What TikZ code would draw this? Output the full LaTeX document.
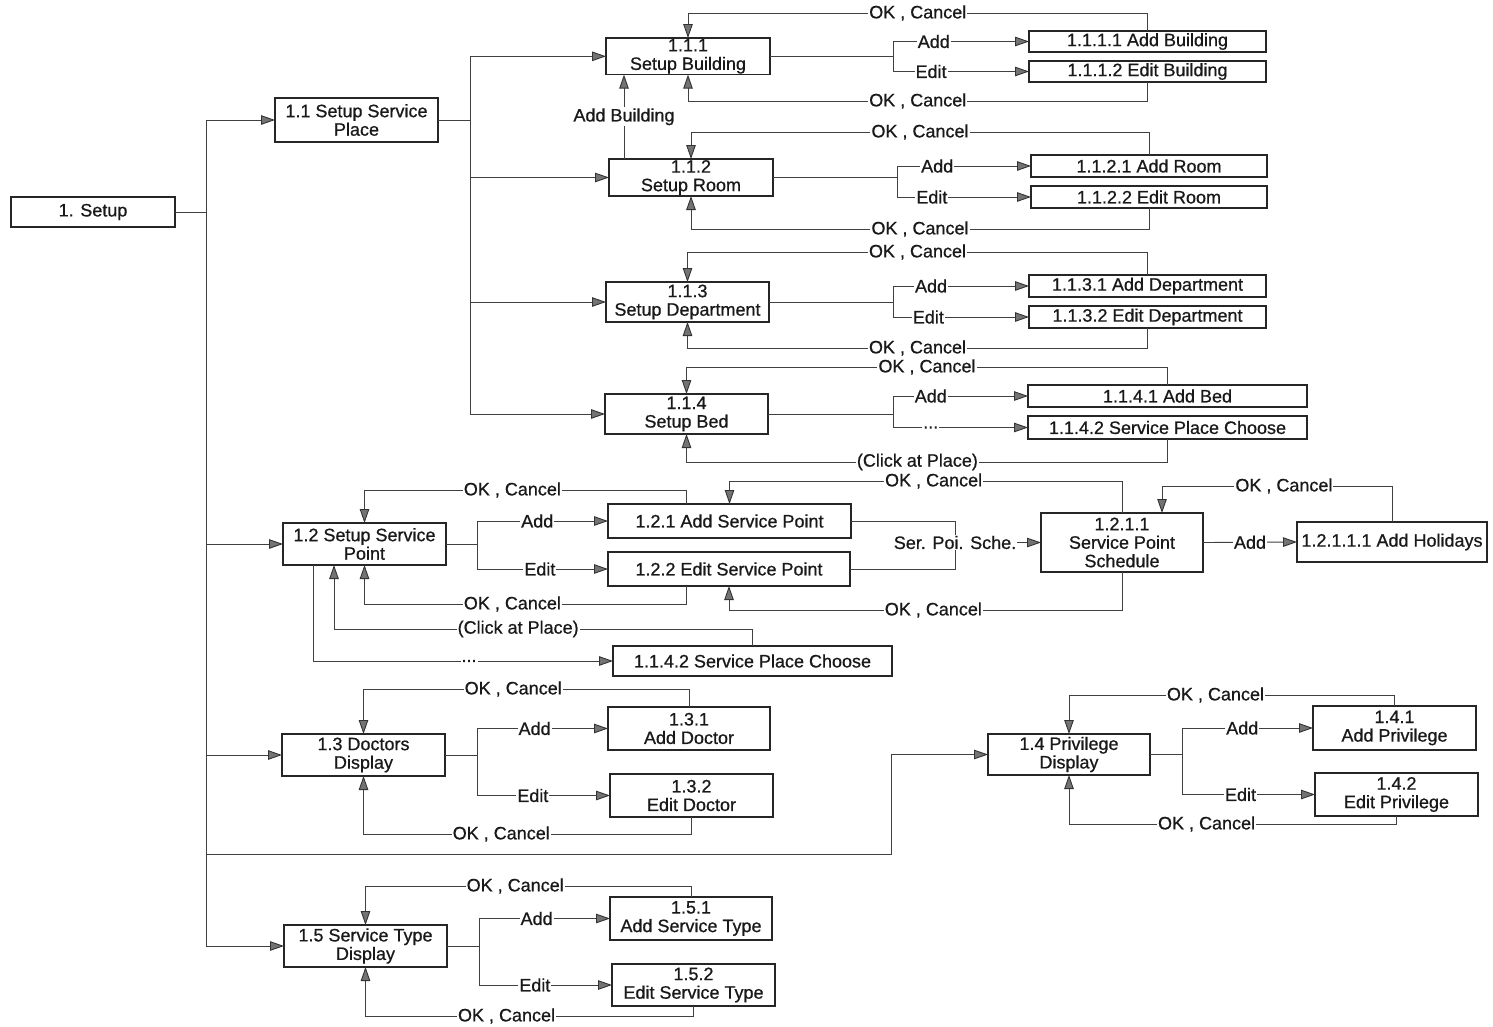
\documentclass[tikz,border=0pt]{standalone}
\usepackage{fontspec}
\setmainfont{Liberation Sans}
\newfontfamily\diagfont{Liberation Sans}[FakeBold=0.7]
\usetikzlibrary{arrows.meta}
\begin{document}
\begin{tikzpicture}[x=1pt,y=-1pt,
  txt/.style={font=\diagfont\fontsize{18}{18.5}\selectfont,text=black!90},
  box/.style={txt,draw=black!85,line width=1.2pt,fill=white,align=center,
              inner sep=1pt,outer sep=0pt,anchor=north west},
  conn/.style={draw=black!75,line width=0.9pt},
  arr/.style={conn,-{Triangle[length=14pt,width=9.5pt,color=black!80,fill=black!55]}},
  lab/.style={txt,fill=white,inner sep=1pt}]

\fill[white] (0,0) rectangle (1493,1026);
\useasboundingbox (0,0) rectangle (1493,1026);

% ---------- boxes ----------
\node[box,minimum width=164pt,minimum height=30pt] (n1)    at (11,197)  {1. Setup};
\node[box,minimum width=163pt,minimum height=44pt] (n11)   at (275,98)  {1.1 Setup Service\\Place};
\node[box,minimum width=164pt,minimum height=36pt] (n111)  at (606,38)  {1.1.1\\Setup Building};
\node[box,minimum width=237pt,minimum height=21pt] (n1111) at (1029,31) {1.1.1.1 Add Building};
\node[box,minimum width=237pt,minimum height=21pt] (n1112) at (1029,61) {1.1.1.2 Edit Building};
\node[box,minimum width=164pt,minimum height=37pt] (n112)  at (609,159) {1.1.2\\Setup Room};
\node[box,minimum width=236pt,minimum height=22pt] (n1121) at (1031,155) {1.1.2.1 Add Room};
\node[box,minimum width=236pt,minimum height=22pt] (n1122) at (1031,186) {1.1.2.2 Edit Room};
\node[box,minimum width=163pt,minimum height=40pt] (n113)  at (606,282) {1.1.3\\Setup Department};
\node[box,minimum width=237pt,minimum height=22pt] (n1131) at (1029,275) {1.1.3.1 Add Department};
\node[box,minimum width=237pt,minimum height=22pt] (n1132) at (1029,306) {1.1.3.2 Edit Department};
\node[box,minimum width=163pt,minimum height=40pt] (n114)  at (605,394) {1.1.4\\Setup Bed};
\node[box,minimum width=279pt,minimum height=22pt] (n1141) at (1028,385) {1.1.4.1 Add Bed};
\node[box,minimum width=279pt,minimum height=23pt] (n1142) at (1028,416) {1.1.4.2 Service Place Choose};

\node[box,minimum width=163pt,minimum height=42pt] (n12)   at (283,523) {1.2 Setup Service\\Point};
\node[box,minimum width=243pt,minimum height=34pt] (n121)  at (608,504) {1.2.1 Add Service Point};
\node[box,minimum width=242pt,minimum height=34pt] (n122)  at (608,552) {1.2.2 Edit Service Point};
\node[box,minimum width=162pt,minimum height=59pt] (n1211) at (1041,513) {1.2.1.1\\Service Point\\Schedule};
\node[box,minimum width=190pt,minimum height=40pt] (n12111) at (1297,522) {1.2.1.1.1 Add Holidays};
\node[box,minimum width=279pt,minimum height=30pt] (n1142b) at (613,646) {1.1.4.2 Service Place Choose};

\node[box,minimum width=163pt,minimum height=42pt] (n13)   at (282,734) {1.3 Doctors\\Display};
\node[box,minimum width=162pt,minimum height=43pt] (n131)  at (608,707) {1.3.1\\Add Doctor};
\node[box,minimum width=163pt,minimum height=43pt] (n132)  at (610,774) {1.3.2\\Edit Doctor};

\node[box,minimum width=162pt,minimum height=41pt] (n14)   at (988,734) {1.4 Privilege\\Display};
\node[box,minimum width=163pt,minimum height=44pt] (n141)  at (1313,706) {1.4.1\\Add Privilege};
\node[box,minimum width=163pt,minimum height=43pt] (n142)  at (1315,773) {1.4.2\\Edit Privilege};

\node[box,minimum width=163pt,minimum height=42pt] (n15)   at (284,925) {1.5 Service Type\\Display};
\node[box,minimum width=162pt,minimum height=43pt] (n151)  at (610,897) {1.5.1\\Add Service Type};
\node[box,minimum width=163pt,minimum height=42pt] (n152)  at (612,964) {1.5.2\\Edit Service Type};

% ---------- root trunk ----------
\draw[conn] (n1.east) -- ++(31,0) coordinate (t0);
\coordinate (p14) at (891,854);
\draw[arr] (t0) |- (n11.west);
\draw[arr] (t0) |- (n12.west);
\draw[arr] (t0) |- (n13.west);
\draw[arr] (t0) |- (n15.west);
\draw[arr] (t0) |- (p14) |- (n14.west);

% ---------- 1.1 trunk ----------
\draw[conn] (n11.east) -- ++(32,0) coordinate (t1);
\draw[arr] (t1) |- (n111.west);
\draw[arr] (t1) |- (n112.west);
\draw[arr] (t1) |- (n113.west);
\draw[arr] (t1) |- (n114.west);

\coordinate (ab) at ([xshift=-67pt]n112.north);
\draw[arr] (ab) -- node[lab]{Add Building} (ab |- n111.south);

% ---------- 1.1.1 ----------
\draw[conn] (n111.east) -- ++(123,0) coordinate (f111);
\draw[arr] (f111) |- node[lab,pos=.65]{Add} (n1111.west);
\draw[arr] (f111) |- node[lab,pos=.64]{Edit} (n1112.west);
\draw[arr] (n1111.north) -- ++(0,-18) -| node[lab,pos=.25]{OK , Cancel} (n111.north);
\draw[arr] (n1112.south) -- ++(0,19) -| node[lab,pos=.25]{OK , Cancel} (n111.south);

% ---------- 1.1.2 ----------
\draw[conn] (n112.east) -- ++(124,0) coordinate (f112);
\draw[arr] (f112) |- node[lab,pos=.65]{Add} (n1121.west);
\draw[arr] (f112) |- node[lab,pos=.63]{Edit} (n1122.west);
\draw[arr] (n1121.north) -- ++(0,-23) -| node[lab,pos=.25]{OK , Cancel} (n112.north);
\draw[arr] (n1122.south) -- ++(0,21) -| node[lab,pos=.25]{OK , Cancel} (n112.south);

% ---------- 1.1.3 ----------
\draw[conn] (n113.east) -- ++(124,0) coordinate (f113);
\draw[arr] (f113) |- node[lab,pos=.64]{Add} (n1131.west);
\draw[arr] (f113) |- node[lab,pos=.63]{Edit} (n1132.west);
\draw[arr] (n1131.north) -- ++(0,-23) -| node[lab,pos=.25]{OK , Cancel} (n113.north);
\draw[arr] (n1132.south) -- ++(0,20) -| node[lab,pos=.25]{OK , Cancel} (n113.south);

% ---------- 1.1.4 ----------
\draw[conn] (n114.east) -- ++(125,0) coordinate (f114);
\draw[arr] (f114) |- node[lab,pos=.64]{Add} (n1141.west);
\draw[arr] (f114) |- node[lab,pos=.64]{...} (n1142.west);
\draw[arr] (n1141.north) -- ++(0,-18) -| node[lab,pos=.25]{OK , Cancel} (n114.north);
\draw[arr] (n1142.south) -- ++(0,23) -| node[lab,pos=.26]{(Click at Place)} (n114.south);

% ---------- 1.2 ----------
\draw[conn] (n12.east) -- ++(31,0) coordinate (f12);
\draw[arr] (f12) |- node[lab,pos=.73]{Add} (n121.west);
\draw[arr] (f12) |- node[lab,pos=.74]{Edit} (n122.west);
\draw[arr] ([xshift=-43.5pt]n121.north) -- ++(0,-14) -| node[lab,pos=.27]{OK , Cancel} (n12.north);
\draw[arr] ([xshift=-43pt]n122.south) -- ++(0,18) -| node[lab,pos=.27]{OK , Cancel} (n12.south);
\draw[arr] (n1142b.north) -- ++(0,-17) -| node[lab,pos=.28]{(Click at Place)} ([xshift=-30.5pt]n12.south);
\draw[arr] ([xshift=-51.5pt]n12.south) |- node[lab,pos=.76]{...} (n1142b.west);

% ---------- 1.2.1.1 ----------
\draw[conn] (n121.east) -- ++(104,0) coordinate (sj) |- (n122.east);
\draw[arr] (sj |- n1211.west) -- (n1211.west);
\node[lab] (sps) at (sj |- n1211.west) {Ser. Poi. Sche.};
\draw[arr] (n1211.north) -- ++(0,-32) -| node[lab,pos=.24]{OK , Cancel} (n121.north);
\draw[arr] (n1211.south) -- ++(0,38) -| node[lab,pos=.24]{OK , Cancel} (n122.south);
\draw[arr] (n1211.east) -- node[lab]{Add} (n12111.west);
\draw[arr] (n12111.north) -- ++(0,-36) -| node[lab,pos=.235]{OK , Cancel} ([xshift=40pt]n1211.north);

% ---------- 1.3 ----------
\draw[conn] (n13.east) -- ++(32,0) coordinate (f13);
\draw[arr] (f13) |- node[lab,pos=.72]{Add} (n131.west);
\draw[arr] (f13) |- node[lab,pos=.71]{Edit} (n132.west);
\draw[arr] (n131.north) -- ++(0,-18) -| node[lab,pos=.27]{OK , Cancel} (n13.north);
\draw[arr] (n132.south) -- ++(0,17) -| node[lab,pos=.29]{OK , Cancel} (n13.south);

% ---------- 1.4 ----------
\draw[conn] (n14.east) -- ++(32,0) coordinate (f14);
\draw[arr] (f14) |- node[lab,pos=.73]{Add} (n141.west);
\draw[arr] (f14) |- node[lab,pos=.72]{Edit} (n142.west);
\draw[arr] (n141.north) -- ++(0,-11) -| node[lab,pos=.275]{OK , Cancel} (n14.north);
\draw[arr] (n142.south) -- ++(0,8) -| node[lab,pos=.29]{OK , Cancel} (n14.south);

% ---------- 1.5 ----------
\draw[conn] (n15.east) -- ++(32,0) coordinate (f15);
\draw[arr] (f15) |- node[lab,pos=.72]{Add} (n151.west);
\draw[arr] (f15) |- node[lab,pos=.71]{Edit} (n152.west);
\draw[arr] (n151.north) -- ++(0,-11) -| node[lab,pos=.27]{OK , Cancel} (n15.north);
\draw[arr] (n152.south) -- ++(0,10) -| node[lab,pos=.285]{OK , Cancel} (n15.south);

\end{tikzpicture}
\end{document}
